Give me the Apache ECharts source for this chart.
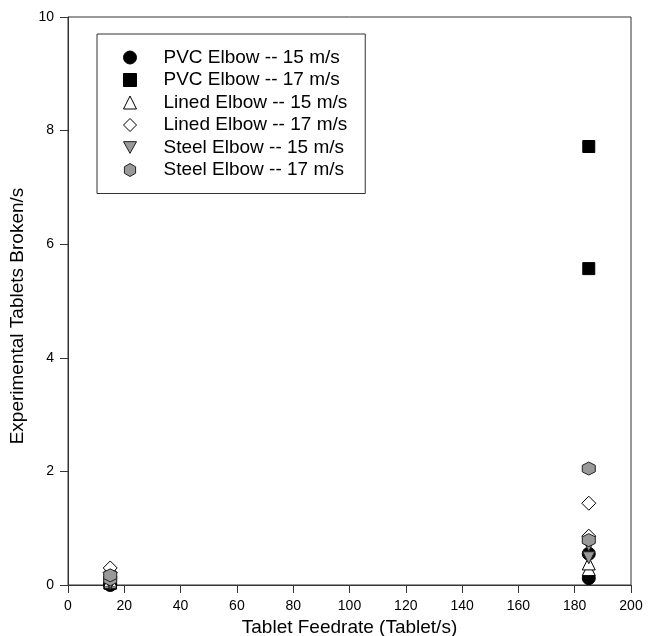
<!DOCTYPE html>
<html>
<head>
<meta charset="utf-8">
<script src="https://cdn.jsdelivr.net/npm/echarts@6/dist/echarts.min.js"></script>
<style>html,body{margin:0;padding:0;background:#fff}#c{width:653px;height:636px}</style>
</head>
<body>
<div id="c"></div>
<script>
const seriesNames = ['PVC Elbow -- 15 m/s','PVC Elbow -- 17 m/s','Lined Elbow -- 15 m/s','Lined Elbow -- 17 m/s','Steel Elbow -- 15 m/s','Steel Elbow -- 17 m/s'];
const feedrates = [15, 15, 185, 185];
const pvc15 = [0.00, 0.02, 0.12, 0.55];
const pvc17 = [0.03, 0.05, 5.57, 7.72];
const lined15 = [0.05, 0.08, 0.28, 0.38];
const lined17 = [0.22, 0.30, 0.86, 1.44];
const steel15 = [0.02, 0.04, 0.48, 0.70];
const steel17 = [0.10, 0.17, 0.79, 2.05];
const xTicks = [0,20,40,60,80,100,120,140,160,180,200];
const yTicks = [0,2,4,6,8,10];

const triDown = 'path://M0,0 L10,0 L5,9 Z';
const hexagon = 'path://M5,0 L10,2.9 L10,8.7 L5,11.6 L0,8.7 L0,2.9 Z';
const styles = [
  {symbol:'circle', size:13, color:'#000', border:'#000'},
  {symbol:'rect', size:12, color:'#000', border:'#000'},
  {symbol:'triangle', size:13, color:'#fff', border:'#000'},
  {symbol:'diamond', size:14, color:'#fff', border:'#000'},
  {symbol:triDown, size:12, color:'#999', border:'#222'},
  {symbol:hexagon, size:13, color:'#999', border:'#222'}
];
const values = [pvc15, pvc17, lined15, lined17, steel15, steel17];

const series = seriesNames.map((n,i)=>({
  name:n, type:'scatter', symbol:styles[i].symbol, symbolSize:styles[i].size,
  itemStyle:{color:styles[i].color, borderColor:styles[i].border, borderWidth:1, opacity:1},
  emphasis:{disabled:true},
  data: feedrates.map((x,j)=>[x, values[i][j]])
}));

const axisLine = {show:true, lineStyle:{color:'#333', width:1}};
const chart = echarts.init(document.getElementById('c'));
chart.setOption({
  animation:false,
  textStyle:{fontFamily:'Liberation Sans, Arial, sans-serif'},
  grid:{left:68, right:22, top:17, bottom:51, show:true, borderColor:'#333', borderWidth:1, containLabel:false, outerBoundsMode:'none'},
  legend:{
    orient:'vertical', left:97, top:34, data:seriesNames,
    padding:[14, 18, 14, 26], itemGap:3.5, itemWidth:13, itemHeight:13,
    borderColor:'#333', borderWidth:1,
    textStyle:{fontSize:19, color:'#000', padding:[0,0,0,22], lineHeight:19},
    itemStyle:{borderWidth:1, opacity:1}
  },
  xAxis:{
    type:'value', min:0, max:200, interval:20,
    name:'Tablet Feedrate (Tablet/s)', nameLocation:'middle', nameGap:30,
    nameTextStyle:{fontSize:19, color:'#000'},
    axisLine:axisLine, axisTick:{show:true, length:8, lineStyle:{color:'#333'}},
    axisLabel:{fontSize:14, color:'#000', margin:14}, splitLine:{show:false}
  },
  yAxis:{
    type:'value', min:0, max:10, interval:2,
    name:'Experimental Tablets Broken/s', nameLocation:'middle', nameGap:40,
    nameTextStyle:{fontSize:19, color:'#000', padding:[0, 30, 0, 0]},
    axisLine:axisLine, axisTick:{show:true, length:8, lineStyle:{color:'#333'}},
    axisLabel:{fontSize:14, color:'#000', margin:14}, splitLine:{show:false}
  },
  series: series
});
</script>
</body>
</html>
